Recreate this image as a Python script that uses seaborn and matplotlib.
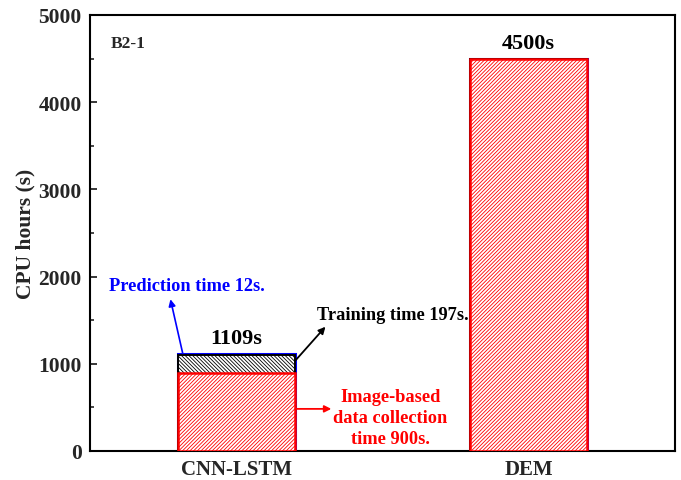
import matplotlib
matplotlib.use("Agg")
import matplotlib.pyplot as plt
import seaborn as sns
import pandas as pd

# Computational cost per method (seconds)
methods = ["CNN-LSTM", "DEM"]
collection_time = [900, 4500]   # image-based data collection / DEM run
training_time = [197, 0]
prediction_time = [12, 0]
totals = [1109, 4500]

sns.set_theme(style="white")
plt.rcParams["font.family"] = ["Liberation Serif", "DejaVu Serif"]
plt.rcParams["font.weight"] = "bold"
plt.rcParams["hatch.linewidth"] = 0.6

fig = plt.figure(figsize=(6.81, 4.81), dpi=100)
ax = fig.add_axes([90 / 681, 29 / 481, 585 / 681, 436 / 481])

# Cumulative layers, drawn from the top down so each lower layer covers the one above
layer_pred = [c + t + p for c, t, p in zip(collection_time, training_time, prediction_time)]
layer_train = [c + t for c, t in zip(collection_time, training_time)]

df = pd.DataFrame({"method": methods, "pred": layer_pred, "train": layer_train, "coll": collection_time})

sns.barplot(data=df, x="method", y="pred", ax=ax, width=0.4, color="white",
            edgecolor="blue", linewidth=2.2, zorder=2)
sns.barplot(data=df, x="method", y="train", ax=ax, width=0.4, color="white",
            edgecolor="black", linewidth=1.4, hatch="\\" * 9, zorder=3)
sns.barplot(data=df, x="method", y="coll", ax=ax, width=0.4, color="white",
            edgecolor="red", linewidth=1.8, hatch="/" * 9, zorder=4)

for p in ax.patches:
    p.set_facecolor("white")

ax.set_xlim(-0.5, 1.5)
ax.set_ylim(0, 5000)
ax.set_xlabel("")
ax.set_ylabel("CPU hours (s)", fontsize=15.5, fontweight="bold", labelpad=2)
ax.set_yticks([0, 1000, 2000, 3000, 4000, 5000])
ax.set_yticks([500, 1500, 2500, 3500, 4500], minor=True)
ax.tick_params(axis="y", which="major", direction="in", length=5, width=1.3,
               labelsize=15.5, left=True, pad=6)
ax.tick_params(axis="y", which="minor", direction="in", length=3, width=1.2, left=True)
ax.tick_params(axis="x", bottom=False, labelsize=15, pad=0)
for lbl in ax.get_xticklabels() + ax.get_yticklabels():
    lbl.set_fontweight("bold")
for s in ax.spines.values():
    s.set_color("black")
    s.set_linewidth(1.5)

# Total labels above bars
ax.text(0, 1300, f"{totals[0]}s", ha="center", va="center",
        fontsize=16, fontweight="bold", color="black")
ax.text(1, 4680, f"{totals[1]}s", ha="center", va="center",
        fontsize=16, fontweight="bold", color="black")

ax.text(-0.43, 4680, "B2-1", ha="left", va="center", fontsize=12.5, fontweight="bold")

# Component annotations: arrows run from the bar segment towards the label
ax.text(-0.17, 1897, f"Prediction time {prediction_time[0]}s.", ha="center", va="center",
        fontsize=13.2, fontweight="bold", color="blue")
ax.annotate("", xy=(-0.225, 1740), xytext=(-0.183, totals[0] + 10),
            arrowprops=dict(arrowstyle="-|>", color="blue", lw=1.2, mutation_scale=10,
                            shrinkA=0, shrinkB=0))

ax.text(0.535, 1563, f"Training time {training_time[0]}s.", ha="center", va="center",
        fontsize=13.2, fontweight="bold", color="black")
ax.annotate("", xy=(0.305, 1425), xytext=(0.202, layer_train[0] - 60),
            arrowprops=dict(arrowstyle="-|>", color="black", lw=1.3, mutation_scale=10,
                            shrinkA=0, shrinkB=0))

ax.annotate("", xy=(0.325, 483), xytext=(0.205, 483),
            arrowprops=dict(arrowstyle="-|>", color="red", lw=1.3, mutation_scale=10,
                            shrinkA=0, shrinkB=0))
ax.text(0.527, 385, f"Image-based\ndata collection\ntime {collection_time[0]}s.",
        ha="center", va="center", fontsize=13.2, fontweight="bold", color="red",
        linespacing=1.3)

fig.savefig("out.png", dpi=100, facecolor="white")
